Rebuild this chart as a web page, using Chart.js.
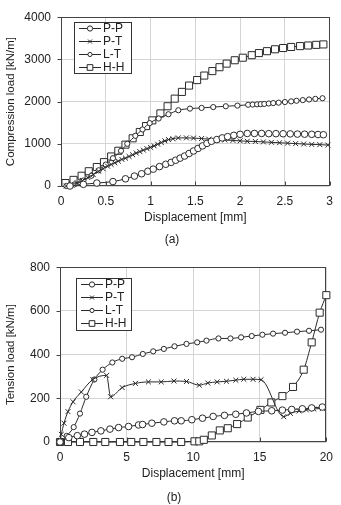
<!DOCTYPE html>
<html>
<head>
<meta charset="utf-8">
<script src="https://cdn.jsdelivr.net/npm/chart.js@4.4.1/dist/chart.umd.min.js"></script>
<style>
  html,body{margin:0;padding:0;background:#fff;}
  body{width:341px;height:505px;position:relative;overflow:hidden;font-family:'Liberation Sans',Arial,sans-serif;}
  .wrap{position:absolute;left:0;width:341px;}
  .cap{position:absolute;width:40px;text-align:center;font-size:12px;line-height:14px;color:#222;}
</style>
</head>
<body>
<div class="wrap" style="top:0;height:250px"><canvas id="c1" width="341" height="250"></canvas></div>
<div class="wrap" style="top:250px;height:255px"><canvas id="c2" width="341" height="255"></canvas></div>
<div class="cap" style="left:152px;top:232px">(a)</div>
<div class="cap" style="left:154px;top:490px">(b)</div>
<script>
// ---------- DATA (a) compression ----------
const seriesNames = ['P-P', 'P-T', 'L-T', 'H-H'];

const ppX_a = [0.1,0.25,0.4,0.58,0.72,0.82,0.9,0.97,1.03,1.1,1.17,1.23,1.28,1.33,1.38,1.43,1.48,1.53,1.58,1.63,1.68,1.74,1.8,1.86,1.93,2.0,2.08,2.16,2.24,2.32,2.4,2.48,2.56,2.64,2.72,2.8,2.87,2.93];
const ppY_a = [0,40,70,105,170,235,290,350,400,460,515,560,610,660,710,770,830,890,950,1010,1060,1100,1140,1170,1200,1225,1245,1245,1245,1240,1240,1238,1235,1230,1228,1225,1220,1215];

const ptX_a = [0.06,0.12,0.18,0.24,0.3,0.36,0.42,0.47,0.52,0.56,0.6,0.64,0.68,0.72,0.76,0.8,0.84,0.88,0.92,0.96,1.0,1.04,1.08,1.12,1.16,1.2,1.25,1.31,1.4,1.48,1.57,1.65,1.74,1.83,1.92,2.0,2.08,2.17,2.26,2.35,2.44,2.53,2.62,2.71,2.8,2.89,2.98];
const ptY_a = [0,30,80,130,200,270,350,410,470,510,550,590,630,660,700,740,780,815,850,885,915,950,990,1030,1070,1100,1120,1140,1140,1135,1125,1110,1095,1090,1080,1070,1060,1055,1045,1035,1025,1015,1005,995,985,980,970];

const ltX_a = [0.06,0.15,0.25,0.34,0.42,0.5,0.58,0.67,0.74,0.83,0.91,0.99,1.09,1.2,1.31,1.44,1.57,1.7,1.84,1.97,2.09,2.14,2.19,2.23,2.27,2.32,2.37,2.43,2.5,2.57,2.63,2.7,2.77,2.84,2.92];
const ltY_a = [0,38,130,243,372,508,659,834,1000,1190,1340,1490,1600,1700,1795,1834,1850,1870,1890,1905,1925,1930,1935,1940,1945,1955,1965,1975,1990,2005,2020,2035,2050,2065,2080];

const hhX_a = [0.05,0.14,0.23,0.31,0.40,0.48,0.56,0.64,0.72,0.80,0.88,0.95,1.02,1.11,1.19,1.27,1.35,1.43,1.52,1.60,1.69,1.77,1.85,1.94,2.03,2.13,2.21,2.30,2.39,2.48,2.57,2.67,2.76,2.85,2.93];
const hhY_a = [70,145,243,350,450,565,700,835,980,1130,1280,1420,1555,1720,1890,2070,2230,2380,2510,2617,2723,2815,2900,2980,3040,3100,3150,3195,3240,3270,3295,3315,3330,3345,3355];

const xTicks_a = ['0','0.5','1','1.5','2','2.5','3'];
const yTicks_a = ['0','1000','2000','3000','4000'];

// ---------- DATA (b) tension ----------
const ppX_b = [0,0.66,1.3,1.84,2.4,3.07,3.75,4.4,5.15,5.9,6.2,6.9,7.8,8.6,9.1,9.9,10.7,11.5,12.35,13.2,14.0,14.9,15.9,16.7,17.4,18.2,18.9,19.7];
const ppY_b = [0,20,29,36,44,51,59,66,71,78,80,86,92,97,97,102,109,117,122,127,133,140,143,146,149,152,156,160];

const ptX_b = [0,0.1,0.3,0.6,0.98,1.6,2.46,3.5,3.8,4.67,5.66,6.64,7.6,8.56,9.5,10.46,11.1,11.8,12.5,13.2,13.8,14.5,15.1,16.8,17.3,17.96,18.5,19.06,19.7];
const ptY_b = [0,35,86,139,184,229,286,305,207,249,268,275,275,279,277,260,270,275,278,283,287,287,285,116,131,142,147,151,154];

const ltX_b = [0,0.5,1.03,1.5,1.97,2.58,3.2,3.93,4.67,5.41,6.22,7.0,7.8,8.6,9.5,10.3,11.0,11.9,12.8,13.6,14.4,15.2,16.0,16.9,17.8,18.7,19.6];
const ltY_b = [0,28,68,130,207,286,331,364,381,388,403,415,426,438,449,456,464,474,474,479,485,491,496,500,505,509,514];

const hhX_b = [0,0.6,1.5,2.5,3.4,4.5,5.35,6.26,7.24,8.15,9.1,10.1,10.46,10.8,11.4,12.0,12.6,13.3,14.1,15.05,15.87,16.7,17.5,18.3,18.9,19.5,20.0];
const hhY_b = [0,0,0,0,0,0,0,0,0,0,0,3,3,10,30,53,63,82,112,147,181,210,252,331,456,592,672];

const xTicks_b = ['0','5','10','15','20'];
const yTicks_b = ['0','200','400','600','800'];

// ---------- STYLE ----------
const FONT = "'Liberation Sans', Arial, sans-serif";
Chart.defaults.font.family = FONT;
Chart.defaults.font.size = 12;
Chart.defaults.color = '#222';

const LINE = '#2a2a2a';
const markerStyles = [
  {pointStyle:'circle', pointRadius:3.3},
  {pointStyle:'crossRot', pointRadius:3.5},
  {pointStyle:'circle', pointRadius:2.6},
  {pointStyle:'rect', pointRadius:5}
];

function pairs(xs, ys){ return xs.map((x,i)=>({x:x, y:ys[i]})); }

function makeDatasets(list){
  return list.map((d,i)=>({
    label: seriesNames[i],
    data: pairs(d[0], d[1]),
    borderColor: LINE,
    borderWidth: 1,
    pointStyle: markerStyles[i].pointStyle,
    pointRadius: markerStyles[i].pointRadius,
    pointBorderColor: LINE,
    pointBackgroundColor: '#fff',
    pointBorderWidth: 1,
    cubicInterpolationMode: 'monotone',
    clip: false
  }));
}

const framePlugin = {
  id: 'frame',
  beforeDatasetsDraw(chart){
    const {ctx, chartArea:a, scales} = chart;
    ctx.save();
    ctx.strokeStyle = '#444';
    ctx.lineWidth = 1;
    const L = Math.round(a.left)+0.5, R = Math.round(a.right)-0.5, T = Math.round(a.top)+0.5, B = Math.round(a.bottom)-0.5;
    ctx.strokeRect(L, T, R-L, B-T);
    ctx.beginPath();
    scales.x.ticks.forEach((t,i)=>{
      const px = Math.round(scales.x.getPixelForTick(i))+0.5;
      ctx.moveTo(px, B); ctx.lineTo(px, B-4);
    });
    scales.y.ticks.forEach((t,i)=>{
      const py = Math.round(scales.y.getPixelForTick(i))+0.5;
      ctx.moveTo(L-4, py); ctx.lineTo(L, py);
    });
    ctx.stroke();
    ctx.restore();
  },
  afterDraw(chart, args, opts){
    if(!opts || !opts.box) return;
    const {ctx} = chart;
    const b = opts.box;
    ctx.save();
    ctx.fillStyle = '#fff';
    ctx.fillRect(b.left, b.top, b.width, b.height);
    ctx.strokeStyle = '#333';
    ctx.lineWidth = 1;
    ctx.strokeRect(b.left+0.5, b.top+0.5, b.width, b.height);
    chart.data.datasets.forEach((ds,i)=>{
      const y = b.top + 6.5 + i*13;
      const x0 = b.left + 5, x1 = b.left + 27;
      ctx.strokeStyle = LINE;
      ctx.lineWidth = 1;
      ctx.beginPath(); ctx.moveTo(x0, y); ctx.lineTo(x1, y); ctx.stroke();
      ctx.fillStyle = '#fff';
      ctx.strokeStyle = LINE;
      Chart.helpers.drawPoint(ctx, {pointStyle: ds.pointStyle, radius: ds.pointRadius * 0.8, rotation: 0, borderWidth: 1}, (x0+x1)/2, y);
      ctx.fillStyle = '#222';
      ctx.font = '12px ' + FONT;
      ctx.textBaseline = 'middle';
      ctx.textAlign = 'left';
      ctx.fillText(ds.label, x1 + 2, y + 0.5);
    });
    ctx.restore();
  }
};

function makeChart(id, datasets, cfg){
  return new Chart(document.getElementById(id), {
    type: 'line',
    data: { datasets: datasets },
    options: {
      responsive: false,
      animation: false,
      events: [],
      layout: { padding: cfg.padding },
      plugins: {
        legend: { display: false },
        tooltip: { enabled: false },
        frame: { box: cfg.legendBox }
      },
      scales: {
        x: {
          type: 'linear',
          min: cfg.xMin, max: cfg.xMax,
          grid: { color: '#d4d4d4', drawTicks: false, lineWidth: 1 },
          border: { display: false },
          ticks: { stepSize: cfg.xStep, padding: 8, color: '#222', font: {size: 12},
                   callback: (v, i) => cfg.xLabels[i] },
          title: { display: true, text: 'Displacement [mm]', color: '#222', font: {size: 12}, padding: {top: 2, bottom: 4} },
          afterFit: s => { s.height = cfg.xAxisH; }
        },
        y: {
          type: 'linear',
          min: cfg.yMin, max: cfg.yMax,
          grid: { color: '#d4d4d4', drawTicks: false, lineWidth: 1 },
          border: { display: false },
          ticks: { stepSize: cfg.yStep, padding: 10, color: '#222', font: {size: 12},
                   callback: (v, i) => cfg.yLabels[i] },
          title: { display: true, text: cfg.yTitle, color: '#222', font: {size: 11.5}, padding: {top: 4, bottom: 2} },
          afterFit: s => { s.width = cfg.yAxisW; }
        }
      }
    },
    plugins: [framePlugin]
  });
}

makeChart('c1', makeDatasets([[ppX_a,ppY_a],[ptX_a,ptY_a],[ltX_a,ltY_a],[hhX_a,hhY_a]]), {
  padding: {left: 0, top: 9, right: 7, bottom: 21},
  xAxisH: 43, yAxisW: 61,
  xMin: 0, xMax: 3, xStep: 0.5, xLabels: xTicks_a,
  yMin: 0, yMax: 4000, yStep: 1000, yLabels: yTicks_a,
  yTitle: 'Compression load [kN/m]',
  legendBox: {left: 74, top: 22, width: 57, height: 51}
});

makeChart('c2', makeDatasets([[ppX_b,ppY_b],[ptX_b,ptY_b],[ltX_b,ltY_b],[hhX_b,hhY_b]]), {
  padding: {left: 0, top: 16, right: 10, bottom: 20},
  xAxisH: 43, yAxisW: 60,
  xMin: 0, xMax: 20, xStep: 5, xLabels: xTicks_b,
  yMin: 0, yMax: 800, yStep: 200, yLabels: yTicks_b,
  yTitle: 'Tension load [kN/m]',
  legendBox: {left: 76, top: 28, width: 55, height: 52}
});
</script>
</body>
</html>
